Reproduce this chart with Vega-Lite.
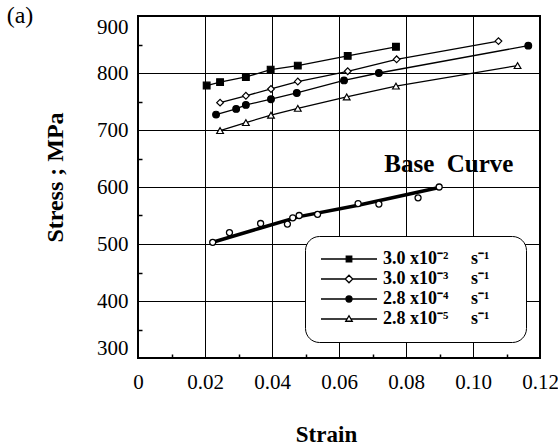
{
  "$schema": "https://vega.github.io/schema/vega-lite/v6.json",
  "width": 402,
  "height": 342,
  "autosize": {"type": "none"},
  "padding": {"left": 138, "top": 16, "right": 18, "bottom": 90},
  "background": "white",
  "title": {"text": "(a)", "orient": "left", "anchor": "end", "frame": "group", "angle": 0, "offset": -17, "baseline": "middle", "align": "right", "font": "Liberation Serif", "fontSize": 24, "fontWeight": "normal", "color": "black"},
  "config": {
    "view": {"stroke": "black", "strokeWidth": 2}
  },
  "datasets": {
    "rates": [
      {"series": "3.0 x10⁻²\u00a0\u00a0\u00a0\u00a0\u00a0s⁻¹\u00a0\u00a0\u00a0\u00a0\u00a0\u200b", "strain": 0.0205, "stress": 778},
      {"series": "3.0 x10⁻²\u00a0\u00a0\u00a0\u00a0\u00a0s⁻¹\u00a0\u00a0\u00a0\u00a0\u00a0\u200b", "strain": 0.0245, "stress": 784},
      {"series": "3.0 x10⁻²\u00a0\u00a0\u00a0\u00a0\u00a0s⁻¹\u00a0\u00a0\u00a0\u00a0\u00a0\u200b", "strain": 0.0322, "stress": 793},
      {"series": "3.0 x10⁻²\u00a0\u00a0\u00a0\u00a0\u00a0s⁻¹\u00a0\u00a0\u00a0\u00a0\u00a0\u200b", "strain": 0.0396, "stress": 806},
      {"series": "3.0 x10⁻²\u00a0\u00a0\u00a0\u00a0\u00a0s⁻¹\u00a0\u00a0\u00a0\u00a0\u00a0\u200b", "strain": 0.0477, "stress": 813},
      {"series": "3.0 x10⁻²\u00a0\u00a0\u00a0\u00a0\u00a0s⁻¹\u00a0\u00a0\u00a0\u00a0\u00a0\u200b", "strain": 0.0626, "stress": 830},
      {"series": "3.0 x10⁻²\u00a0\u00a0\u00a0\u00a0\u00a0s⁻¹\u00a0\u00a0\u00a0\u00a0\u00a0\u200b", "strain": 0.077, "stress": 846},
      {"series": "3.0 x10⁻³\u00a0\u00a0\u00a0\u00a0\u00a0s⁻¹\u00a0\u00a0\u00a0\u00a0\u00a0\u200b", "strain": 0.0245, "stress": 748},
      {"series": "3.0 x10⁻³\u00a0\u00a0\u00a0\u00a0\u00a0s⁻¹\u00a0\u00a0\u00a0\u00a0\u00a0\u200b", "strain": 0.0322, "stress": 760},
      {"series": "3.0 x10⁻³\u00a0\u00a0\u00a0\u00a0\u00a0s⁻¹\u00a0\u00a0\u00a0\u00a0\u00a0\u200b", "strain": 0.0397, "stress": 772},
      {"series": "3.0 x10⁻³\u00a0\u00a0\u00a0\u00a0\u00a0s⁻¹\u00a0\u00a0\u00a0\u00a0\u00a0\u200b", "strain": 0.0477, "stress": 785},
      {"series": "3.0 x10⁻³\u00a0\u00a0\u00a0\u00a0\u00a0s⁻¹\u00a0\u00a0\u00a0\u00a0\u00a0\u200b", "strain": 0.0626, "stress": 803},
      {"series": "3.0 x10⁻³\u00a0\u00a0\u00a0\u00a0\u00a0s⁻¹\u00a0\u00a0\u00a0\u00a0\u00a0\u200b", "strain": 0.0772, "stress": 824},
      {"series": "3.0 x10⁻³\u00a0\u00a0\u00a0\u00a0\u00a0s⁻¹\u00a0\u00a0\u00a0\u00a0\u00a0\u200b", "strain": 0.1076, "stress": 856},
      {"series": "2.8 x10⁻⁴\u00a0\u00a0\u00a0\u00a0\u00a0s⁻¹\u00a0\u00a0\u00a0\u00a0\u00a0\u200b", "strain": 0.0233, "stress": 727},
      {"series": "2.8 x10⁻⁴\u00a0\u00a0\u00a0\u00a0\u00a0s⁻¹\u00a0\u00a0\u00a0\u00a0\u00a0\u200b", "strain": 0.0293, "stress": 737},
      {"series": "2.8 x10⁻⁴\u00a0\u00a0\u00a0\u00a0\u00a0s⁻¹\u00a0\u00a0\u00a0\u00a0\u00a0\u200b", "strain": 0.0322, "stress": 744},
      {"series": "2.8 x10⁻⁴\u00a0\u00a0\u00a0\u00a0\u00a0s⁻¹\u00a0\u00a0\u00a0\u00a0\u00a0\u200b", "strain": 0.0397, "stress": 754},
      {"series": "2.8 x10⁻⁴\u00a0\u00a0\u00a0\u00a0\u00a0s⁻¹\u00a0\u00a0\u00a0\u00a0\u00a0\u200b", "strain": 0.0474, "stress": 765},
      {"series": "2.8 x10⁻⁴\u00a0\u00a0\u00a0\u00a0\u00a0s⁻¹\u00a0\u00a0\u00a0\u00a0\u00a0\u200b", "strain": 0.0615, "stress": 787},
      {"series": "2.8 x10⁻⁴\u00a0\u00a0\u00a0\u00a0\u00a0s⁻¹\u00a0\u00a0\u00a0\u00a0\u00a0\u200b", "strain": 0.0719, "stress": 800},
      {"series": "2.8 x10⁻⁴\u00a0\u00a0\u00a0\u00a0\u00a0s⁻¹\u00a0\u00a0\u00a0\u00a0\u00a0\u200b", "strain": 0.1165, "stress": 848},
      {"series": "2.8 x10⁻⁵\u00a0\u00a0\u00a0\u00a0\u00a0s⁻¹\u00a0\u00a0\u00a0\u00a0\u00a0\u200b", "strain": 0.0245, "stress": 699},
      {"series": "2.8 x10⁻⁵\u00a0\u00a0\u00a0\u00a0\u00a0s⁻¹\u00a0\u00a0\u00a0\u00a0\u00a0\u200b", "strain": 0.0322, "stress": 713},
      {"series": "2.8 x10⁻⁵\u00a0\u00a0\u00a0\u00a0\u00a0s⁻¹\u00a0\u00a0\u00a0\u00a0\u00a0\u200b", "strain": 0.0397, "stress": 726},
      {"series": "2.8 x10⁻⁵\u00a0\u00a0\u00a0\u00a0\u00a0s⁻¹\u00a0\u00a0\u00a0\u00a0\u00a0\u200b", "strain": 0.0477, "stress": 738},
      {"series": "2.8 x10⁻⁵\u00a0\u00a0\u00a0\u00a0\u00a0s⁻¹\u00a0\u00a0\u00a0\u00a0\u00a0\u200b", "strain": 0.0623, "stress": 758},
      {"series": "2.8 x10⁻⁵\u00a0\u00a0\u00a0\u00a0\u00a0s⁻¹\u00a0\u00a0\u00a0\u00a0\u00a0\u200b", "strain": 0.077, "stress": 777},
      {"series": "2.8 x10⁻⁵\u00a0\u00a0\u00a0\u00a0\u00a0s⁻¹\u00a0\u00a0\u00a0\u00a0\u00a0\u200b", "strain": 0.1133, "stress": 813}
    ],
    "base": [
      {"strain": 0.0223, "stress": 503},
      {"strain": 0.0273, "stress": 520},
      {"strain": 0.0366, "stress": 536},
      {"strain": 0.0446, "stress": 535},
      {"strain": 0.0462, "stress": 546},
      {"strain": 0.0481, "stress": 550},
      {"strain": 0.0536, "stress": 552},
      {"strain": 0.0657, "stress": 571},
      {"strain": 0.0719, "stress": 570},
      {"strain": 0.0836, "stress": 581},
      {"strain": 0.0899, "stress": 600}
    ],
    "fit": [
      {"strain": 0.0223, "stress": 503},
      {"strain": 0.0366, "stress": 528},
      {"strain": 0.0481, "stress": 548},
      {"strain": 0.0657, "stress": 568},
      {"strain": 0.0899, "stress": 599}
    ],
    "note": [
      {"strain": 0.0928, "stress": 641, "label": "Base\u00a0\u00a0Curve"}
    ]
  },
  "resolve": {"axis": {"x": "independent", "y": "independent"}, "scale": {"shape": "independent", "fill": "independent", "stroke": "independent"}},
  "layer": [
    {
      "data": {"name": "fit"},
      "mark": {"type": "line", "color": "black", "strokeWidth": 3.5},
      "encoding": {
        "x": {"field": "strain", "type": "quantitative", "scale": {"domain": [0, 0.12], "nice": false, "zero": false},
          "axis": {"values": [0, 0.02, 0.04, 0.06, 0.08, 0.1, 0.12], "labelExpr": "datum.value == 0 ? '0' : format(datum.value, '.2f')", "grid": true, "gridColor": "black", "gridOpacity": 1, "gridWidth": 1, "ticks": false, "domain": false, "labelFont": "Liberation Serif", "labelColor": "black", "labelFontSize": 21, "labelPadding": 13, "labelFlush": false, "title": "Strain", "titleFont": "Liberation Serif", "titleColor": "black", "titleFontSize": 23, "titleFontWeight": "bold", "titleX": 188, "titleY": 76, "titleBaseline": "middle", "titleAlign": "center"}},
        "y": {"field": "stress", "type": "quantitative", "scale": {"domain": [300, 900], "nice": false, "zero": false},
          "axis": {"values": [300, 400, 500, 600, 700, 800, 900], "format": "d", "grid": true, "gridColor": "black", "gridOpacity": 1, "gridWidth": 1, "ticks": false, "domain": false, "labelFont": "Liberation Serif", "labelColor": "black", "labelFontSize": 21, "labelPadding": 10, "labelFlush": true, "title": "Stress ; MPa", "titleFont": "Liberation Serif", "titleColor": "black", "titleFontSize": 24, "titleFontWeight": "bold", "titleX": -83, "titleY": 161, "titleBaseline": "middle", "titleAlign": "center", "titleAngle": -90}}
      }
    },
    {
      "data": {"name": "base"},
      "mark": {"type": "point", "shape": "circle", "filled": true, "fill": "white", "stroke": "black", "strokeWidth": 1.3, "size": 36, "opacity": 1},
      "encoding": {
        "x": {"field": "strain", "type": "quantitative",
          "axis": {"orient": "bottom", "values": [0.01, 0.03, 0.05, 0.07, 0.09, 0.11], "labels": false, "grid": false, "ticks": true, "tickSize": -4, "tickColor": "black", "tickWidth": 1.5, "domain": false, "title": null}},
        "y": {"field": "stress", "type": "quantitative",
          "axis": {"orient": "left", "values": [350, 450, 550, 650, 750, 850], "labels": false, "grid": false, "ticks": true, "tickSize": -4, "tickColor": "black", "tickWidth": 1.5, "domain": false, "title": null}}
      }
    },
    {
      "data": {"name": "rates"},
      "mark": {"type": "line", "color": "black", "strokeWidth": 1.3},
      "encoding": {
        "x": {"field": "strain", "type": "quantitative", "axis": null},
        "y": {"field": "stress", "type": "quantitative", "axis": null},
        "detail": {"field": "series", "type": "nominal"}
      }
    },
    {
      "data": {"name": "rates"},
      "mark": {"type": "point", "filled": false, "color": "black", "strokeWidth": 1.2, "size": 45, "opacity": 1},
      "encoding": {
        "x": {"field": "strain", "type": "quantitative", "axis": null},
        "y": {"field": "stress", "type": "quantitative", "axis": null},
        "shape": {"field": "series", "type": "nominal", "legend": null,
          "scale": {"domain": ["3.0 x10⁻²\u00a0\u00a0\u00a0\u00a0\u00a0s⁻¹\u00a0\u00a0\u00a0\u00a0\u00a0\u200b", "3.0 x10⁻³\u00a0\u00a0\u00a0\u00a0\u00a0s⁻¹\u00a0\u00a0\u00a0\u00a0\u00a0\u200b", "2.8 x10⁻⁴\u00a0\u00a0\u00a0\u00a0\u00a0s⁻¹\u00a0\u00a0\u00a0\u00a0\u00a0\u200b", "2.8 x10⁻⁵\u00a0\u00a0\u00a0\u00a0\u00a0s⁻¹\u00a0\u00a0\u00a0\u00a0\u00a0\u200b"], "range": ["square", "diamond", "circle", "triangle-up"]}},
        "fill": {"field": "series", "type": "nominal", "legend": null,
          "scale": {"domain": ["3.0 x10⁻²\u00a0\u00a0\u00a0\u00a0\u00a0s⁻¹\u00a0\u00a0\u00a0\u00a0\u00a0\u200b", "3.0 x10⁻³\u00a0\u00a0\u00a0\u00a0\u00a0s⁻¹\u00a0\u00a0\u00a0\u00a0\u00a0\u200b", "2.8 x10⁻⁴\u00a0\u00a0\u00a0\u00a0\u00a0s⁻¹\u00a0\u00a0\u00a0\u00a0\u00a0\u200b", "2.8 x10⁻⁵\u00a0\u00a0\u00a0\u00a0\u00a0s⁻¹\u00a0\u00a0\u00a0\u00a0\u00a0\u200b"], "range": ["black", "white", "black", "white"]}}
      }
    },
    {
      "data": {"name": "rates"},
      "transform": [{"filter": "datum.strain < 0"}],
      "mark": {"type": "point", "filled": false, "strokeWidth": 1.3, "opacity": 1},
      "encoding": {
        "x": {"field": "strain", "type": "quantitative", "axis": null},
        "y": {"field": "stress", "type": "quantitative", "axis": null},
        "stroke": {"field": "series", "type": "nominal",
          "scale": {"domain": ["3.0 x10⁻²\u00a0\u00a0\u00a0\u00a0\u00a0s⁻¹\u00a0\u00a0\u00a0\u00a0\u00a0\u200b", "3.0 x10⁻³\u00a0\u00a0\u00a0\u00a0\u00a0s⁻¹\u00a0\u00a0\u00a0\u00a0\u00a0\u200b", "2.8 x10⁻⁴\u00a0\u00a0\u00a0\u00a0\u00a0s⁻¹\u00a0\u00a0\u00a0\u00a0\u00a0\u200b", "2.8 x10⁻⁵\u00a0\u00a0\u00a0\u00a0\u00a0s⁻¹\u00a0\u00a0\u00a0\u00a0\u00a0\u200b"], "range": ["black", "black", "black", "black"]},
          "legend": {"title": null, "orient": "none", "legendX": 167, "legendY": 220, "padding": 14, "cornerRadius": 14, "strokeColor": "black", "fillColor": "white", "labelFont": "Liberation Serif", "labelFontWeight": "bold", "labelFontSize": 18, "labelColor": "black", "symbolSize": 100, "symbolOffset": 21, "labelOffset": 25, "symbolStrokeWidth": 1.3, "rowPadding": 2, "labelLimit": 300}},
        "shape": {"field": "series", "type": "nominal",
          "scale": {"domain": ["3.0 x10⁻²\u00a0\u00a0\u00a0\u00a0\u00a0s⁻¹\u00a0\u00a0\u00a0\u00a0\u00a0\u200b", "3.0 x10⁻³\u00a0\u00a0\u00a0\u00a0\u00a0s⁻¹\u00a0\u00a0\u00a0\u00a0\u00a0\u200b", "2.8 x10⁻⁴\u00a0\u00a0\u00a0\u00a0\u00a0s⁻¹\u00a0\u00a0\u00a0\u00a0\u00a0\u200b", "2.8 x10⁻⁵\u00a0\u00a0\u00a0\u00a0\u00a0s⁻¹\u00a0\u00a0\u00a0\u00a0\u00a0\u200b"],
            "range": ["M-5.6,0H-0.55M0.55,0H5.6M-0.55,-0.55H0.55V0.55H-0.55Z", "M-5.6,0H-0.75M0.75,0H5.6M-0.75,0L0,-0.75L0.75,0L0,0.75Z", "M-5.6,0H-0.6M0.6,0H5.6M-0.6,0A0.6,0.6,0,1,0,0.6,0A0.6,0.6,0,1,0,-0.6,0Z", "M-5.6,0H-0.36M0.36,0H5.6M-0.65,0.45L0,-0.65L0.65,0.45Z"]},
          "legend": {"title": null, "orient": "none", "legendX": 167, "legendY": 220, "padding": 14, "cornerRadius": 14, "strokeColor": "black", "fillColor": "white", "labelFont": "Liberation Serif", "labelFontWeight": "bold", "labelFontSize": 18, "labelColor": "black", "symbolSize": 100, "symbolOffset": 21, "labelOffset": 25, "symbolStrokeWidth": 1.3, "rowPadding": 2, "labelLimit": 300}},
        "fill": {"field": "series", "type": "nominal",
          "scale": {"domain": ["3.0 x10⁻²\u00a0\u00a0\u00a0\u00a0\u00a0s⁻¹\u00a0\u00a0\u00a0\u00a0\u00a0\u200b", "3.0 x10⁻³\u00a0\u00a0\u00a0\u00a0\u00a0s⁻¹\u00a0\u00a0\u00a0\u00a0\u00a0\u200b", "2.8 x10⁻⁴\u00a0\u00a0\u00a0\u00a0\u00a0s⁻¹\u00a0\u00a0\u00a0\u00a0\u00a0\u200b", "2.8 x10⁻⁵\u00a0\u00a0\u00a0\u00a0\u00a0s⁻¹\u00a0\u00a0\u00a0\u00a0\u00a0\u200b"], "range": ["black", "white", "black", "white"]},
          "legend": {"title": null, "orient": "none", "legendX": 167, "legendY": 220, "padding": 14, "cornerRadius": 14, "strokeColor": "black", "fillColor": "white", "labelFont": "Liberation Serif", "labelFontWeight": "bold", "labelFontSize": 18, "labelColor": "black", "symbolSize": 100, "symbolOffset": 21, "labelOffset": 25, "symbolStrokeWidth": 1.3, "rowPadding": 2, "labelLimit": 300}}
      }
    },
    {
      "data": {"name": "note"},
      "mark": {"type": "text", "font": "Liberation Serif", "fontWeight": "bold", "fontSize": 25, "color": "black", "align": "center", "baseline": "middle"},
      "encoding": {
        "x": {"field": "strain", "type": "quantitative", "axis": null},
        "y": {"field": "stress", "type": "quantitative", "axis": null},
        "text": {"field": "label"}
      }
    }
  ]
}
